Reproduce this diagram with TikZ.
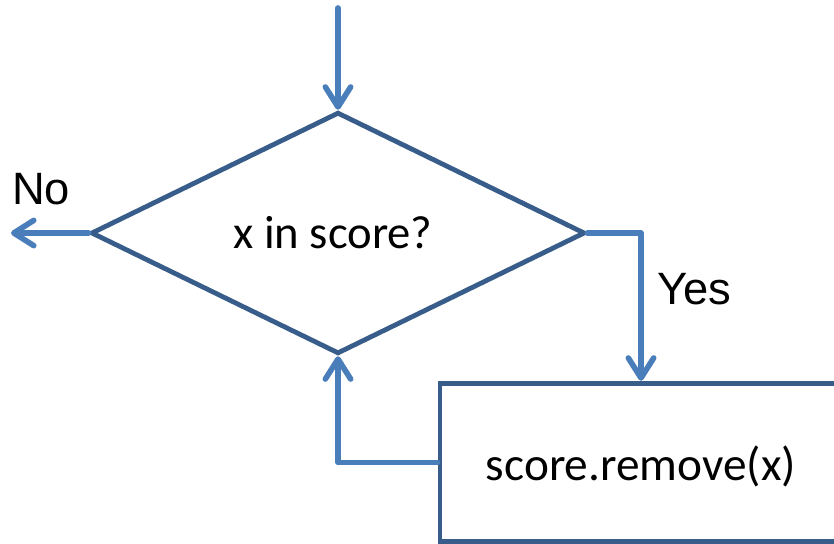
\documentclass[tikz,border=0pt]{standalone}
\usepackage{fontspec}
\setmainfont{Carlito}
\newfontfamily\arialfont{Liberation Sans}
\usetikzlibrary{shapes.geometric,arrows.meta}
\definecolor{flowline}{RGB}{74,126,187}
\definecolor{flowedge}{RGB}{56,93,138}
\tikzset{every picture/.style={line width=0.75pt}}
\tikzset{
  dec/.style={shape=diamond, draw=flowedge, line width=3.6pt, inner sep=0pt,
    minimum width=370.5pt, minimum height=179pt, font=\fontsize{35}{40}\selectfont},
  actbox/.style={shape=rectangle, draw=flowedge, line width=3.6pt, inner sep=0pt,
    minimum width=301.5pt, minimum height=119pt, text height=26.25pt, text depth=0pt,
    font=\fontsize{35.5}{40}\selectfont},
  flow/.style={draw=flowline, line width=4.2pt, line cap=round, line join=round,
    -{Straight Barb[length=15pt,width=19pt,line cap=round,line join=round]}},
  lbl/.style={font=\arialfont\fontsize{34}{40}\selectfont, inner sep=0pt}
}

\begin{document}
\begin{tikzpicture}[x=0.75pt,y=0.75pt,yscale=-1,xscale=1]
\useasboundingbox (0,0) rectangle (834,543);
%Decision
\node [dec] (dia) at (338,233) {x in score?\hspace*{7.5pt}};
%Process box
\node [actbox] (act) at (641,462.5) {score.remove(x)};
%Free ends
\coordinate (top) at (338,8);
\coordinate (out) at (11,233);
%Straight Lines
\draw [flow] (top) -- (dia.north);
\draw [flow] (dia.west) -- (out);
\draw [flow] (dia.east) -| (act.north);
\draw [flow] (act.west) -| (dia.south);
% Text Node
\node [lbl] (no) at (41,189) {No};
% Text Node
\node [lbl] (yes) at (694,289) {Yes};
\end{tikzpicture}
\end{document}
